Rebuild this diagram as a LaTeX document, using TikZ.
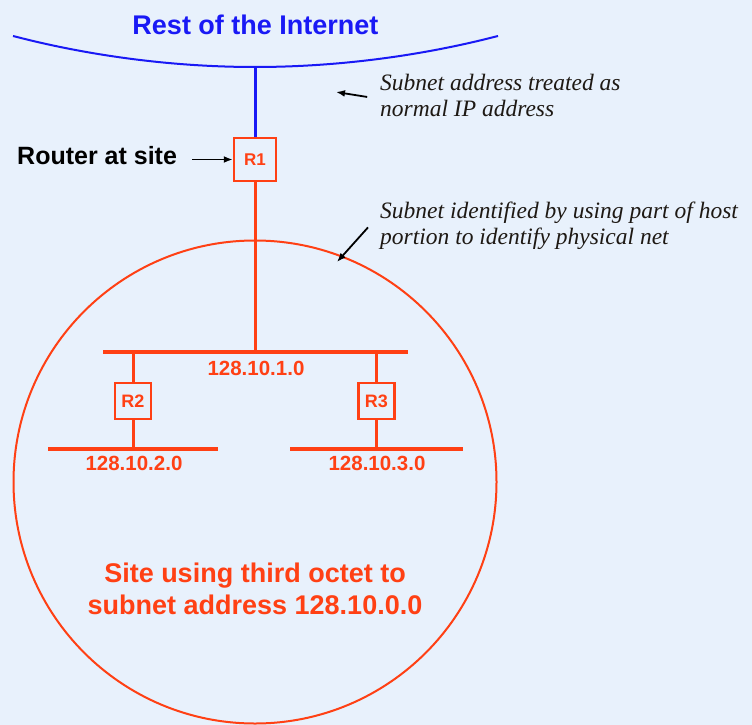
\documentclass[tikz,border=0pt]{standalone}
\usepackage{fontspec}
\setsansfont{Liberation Sans}
\newfontfamily\notefont{Liberation Serif}
\usetikzlibrary{positioning, arrows.meta}
\definecolor{inetblue}{RGB}{25,25,245}
\definecolor{sitered}{RGB}{255,64,20}
\definecolor{slidebg}{RGB}{232,241,252}
\definecolor{notetext}{RGB}{30,25,20}

\begin{document}
\begin{tikzpicture}[x=1pt, y=-1pt,
	router/.style={draw=sitered, line width=2.5pt, fill=slidebg, inner sep=0pt, text=sitered, font=\sffamily\bfseries\fontsize{18}{18}\selectfont},
	net/.style={draw=sitered, line width=4.5pt},
	link/.style={draw=sitered, line width=3pt},
	netlabel/.style={text=sitered, anchor=base, inner sep=0pt, font=\sffamily\bfseries\fontsize{20.5}{21}\selectfont},
	note/.style={anchor=west, align=left, inner sep=0pt, text=notetext, font=\notefont\itshape\fontsize{23.5}{26}\selectfont},
	pointer/.style={-{Latex[length=9pt, width=7pt]}, line width=1.8pt}]
		\useasboundingbox[fill=slidebg] (0,0) rectangle (752,725);
		% site boundary
		\node[circle, draw=sitered, line width=2pt, minimum size=483pt, inner sep=0pt] (site) at (255,482) {};
		% the internet
		\node[anchor=base, inner sep=0pt, text=inetblue, font=\sffamily\bfseries\fontsize{27}{27}\selectfont] (inet) at (255.5,35) {Rest of the Internet};
		\draw[inetblue, line width=2pt] (13,36) parabola bend (255,67) (498,36);
		\coordinate (cloud) at (255,67);
		% routers
		\node[router, minimum width=42pt, minimum height=43pt, font=\sffamily\bfseries\fontsize{17}{17}\selectfont] (R1) at (255,159.5) {R1};
		\node[router, minimum size=36pt] (R2) at (133,401) {R2};
		\node[router, minimum size=36pt] (R3) at (376.5,401) {R3};
		\draw[inetblue, line width=3pt] (cloud) -- (R1.north);
		% networks
		\coordinate (n1w) at (103,352);
		\coordinate (n1e) at (408,352);
		\coordinate (n2w) at (48,449);
		\coordinate (n2e) at (218,449);
		\coordinate (n3w) at (290,449);
		\coordinate (n3e) at (463,449);
		\draw[net] (n1w) -- (n1e);
		\draw[net] (n2w) -- (n2e);
		\draw[net] (n3w) -- (n3e);
		\draw[link] (R1.south) -- (R1.south |- n1w);
		\draw[link] (R2.north) -- (R2.north |- n1w);
		\draw[link] (R3.north) -- (R3.north |- n1w);
		\draw[link] (R2.south) -- (R2.south |- n2w);
		\draw[link] (R3.south) -- (R3.south |- n3w);
		\node[netlabel] (n1lbl) at (256,375) {128.10.1.0};
		\node[netlabel] (n2lbl) at (134,470) {128.10.2.0};
		\node[netlabel] (n3lbl) at (377,470) {128.10.3.0};
		\node[anchor=north, align=center, inner sep=0pt, text=sitered, font=\sffamily\bfseries\fontsize{27}{32}\selectfont] (sitelbl) at (255,563) {Site using third octet to\\subnet address 128.10.0.0};
		% annotations
		\node[anchor=base west, inner sep=0pt, font=\sffamily\bfseries\fontsize{25}{25}\selectfont] (here) at (17,164) {Router at site};
		\draw[pointer, shorten <=15pt] (here.east |- R1.west) -- (R1.west);
		\node[note] (note1) at (380,95) {Subnet address treated as\\normal IP address};
		\coordinate (tip1) at (336,92);
		\draw[pointer, shorten <=13pt] ([yshift=-4pt]note1.west) -- (tip1);
		\node[note] (note2) at (380,226) {Subnet identified by using part of host\\portion to identify physical net};
		\coordinate (tip2) at (337,262);
		\draw[pointer, shorten <=18pt] ([yshift=12pt]note2.west) -- (tip2);
	\end{tikzpicture}
\end{document}
